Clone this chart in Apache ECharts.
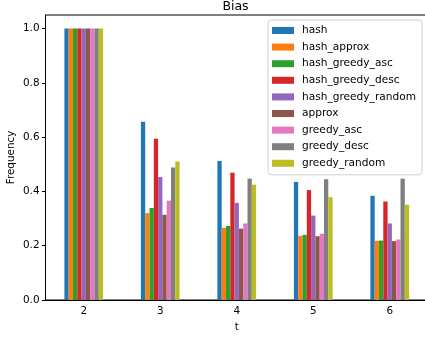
<!DOCTYPE html>
<html>
<head>
<meta charset="utf-8">
<script src="https://cdn.jsdelivr.net/npm/echarts@6/dist/echarts.min.js"></script>
<style>
  html, body { margin: 0; padding: 0; background: #fff; }
  #bias { width: 425px; height: 338px; }
</style>
</head>
<body>
<div id="bias"></div>
<script>
// categories (t)
var categories = ["2", "3", "4", "5", "6"];
var yTicks = [0, 0.2, 0.4, 0.6, 0.8, 1.0];

// bias frequency per method
var hash = [1.0, 0.657, 0.512, 0.435, 0.384];
var hashApprox = [1.0, 0.320, 0.266, 0.236, 0.218];
var hashGreedyAsc = [1.0, 0.339, 0.273, 0.240, 0.219];
var hashGreedyDesc = [1.0, 0.594, 0.469, 0.405, 0.363];
var hashGreedyRandom = [1.0, 0.453, 0.358, 0.311, 0.282];
var approx = [1.0, 0.314, 0.263, 0.235, 0.217];
var greedyAsc = [1.0, 0.366, 0.282, 0.244, 0.223];
var greedyDesc = [1.0, 0.488, 0.447, 0.445, 0.447];
var greedyRandom = [1.0, 0.510, 0.425, 0.379, 0.351];

var seriesNames = ["hash", "hash_approx", "hash_greedy_asc", "hash_greedy_desc",
  "hash_greedy_random", "approx", "greedy_asc", "greedy_desc", "greedy_random"];
var seriesData = [hash, hashApprox, hashGreedyAsc, hashGreedyDesc,
  hashGreedyRandom, approx, greedyAsc, greedyDesc, greedyRandom];
var colors = ["#1f77b4", "#ff7f0e", "#2ca02c", "#d62728", "#9467bd",
  "#8c564b", "#e377c2", "#7f7f7f", "#bcbd22"];

var font = "DejaVu Sans";
var myChart = echarts.init(document.getElementById("bias"), null, { renderer: "canvas" });

myChart.setOption({
  animation: false,
  color: colors,
  textStyle: { fontFamily: font },
  title: {
    text: "Bias",
    left: 235.5,
    top: 0,
    padding: 0,
    textAlign: "center",
    textStyle: { fontFamily: font, fontSize: 12.5, fontWeight: "normal", color: "#000" }
  },
  legend: {
    orient: "vertical",
    left: 268,
    top: 20,
    itemWidth: 22,
    itemHeight: 7,
    itemGap: 5.6,
    padding: [5, 6, 6, 4],
    borderColor: "#d0d0d0",
    borderWidth: 1,
    borderRadius: 3,
    backgroundColor: "rgba(255,255,255,0.8)",
    icon: "rect",
    textStyle: { fontFamily: font, fontSize: 10.6, color: "#000", padding: [0, 0, 0, 3] },
    data: seriesNames
  },
  grid: {
    left: 45.5,
    top: 15,
    width: 382.5,
    bottom: 38,
    outerBoundsMode: "none",
    containLabel: false,
    show: true,
    borderColor: "#000",
    borderWidth: 1,
    backgroundColor: "transparent"
  },
  xAxis: {
    type: "category",
    data: categories,
    name: "t",
    nameLocation: "middle",
    nameGap: 22,
    nameMoveOverlap: false,
    nameTextStyle: { fontFamily: font, fontSize: 10.4, color: "#000" },
    axisLine: { lineStyle: { color: "#000", width: 1 } },
    axisTick: { alignWithLabel: true, length: 3.5, lineStyle: { color: "#000" } },
    axisLabel: { fontFamily: font, fontSize: 10.4, color: "#000", margin: 6 },
    splitLine: { show: false }
  },
  yAxis: {
    type: "value",
    min: 0,
    max: 1.05,
    interval: 0.2,
    name: "Frequency",
    nameLocation: "middle",
    nameGap: 29,
    nameMoveOverlap: false,
    nameTextStyle: { fontFamily: font, fontSize: 10.4, color: "#000" },
    axisLine: { show: true, lineStyle: { color: "#000", width: 1 } },
    axisTick: { show: true, length: 3.5, lineStyle: { color: "#000" }, customValues: yTicks },
    axisLabel: {
      fontFamily: font, fontSize: 10.4, color: "#000", margin: 6,
      customValues: yTicks,
      formatter: function (v) { return v.toFixed(1); }
    },
    splitLine: { show: false }
  },
  series: seriesNames.map(function (name, i) {
    return {
      name: name,
      type: "bar",
      data: seriesData[i],
      barWidth: 4.3,
      barGap: "0%"
    };
  })
});

window.onresize = function () {
  myChart.resize();
};
</script>
</body>
</html>
